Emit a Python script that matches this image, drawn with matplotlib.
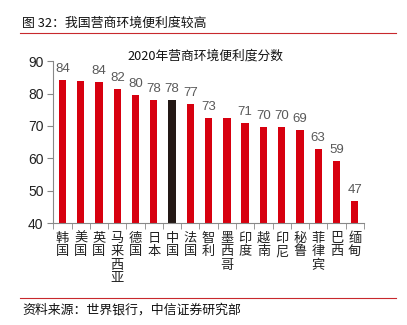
import matplotlib
matplotlib.use("Agg")
import matplotlib.pyplot as plt
from matplotlib.lines import Line2D

plt.rcParams['font.family'] = ['Noto Sans CJK SC', 'DejaVu Sans']

countries = ["韩国", "美国", "英国", "马来西亚", "德国", "日本", "中国", "法国", "智利",
             "墨西哥", "印度", "越南", "印尼", "秘鲁", "菲律宾", "巴西", "缅甸"]
scores = [84.1, 84.0, 83.6, 81.5, 79.7, 78.0, 77.9, 76.8, 72.6,
          72.4, 71.0, 69.8, 69.6, 68.7, 62.8, 59.1, 46.8]
value_labels = ["84", "", "84", "82", "80", "78", "78", "77", "73",
                "", "71", "70", "70", "69", "63", "59", "47"]
highlight = "中国"
yticks = [40, 50, 60, 70, 80, 90]

red = "#D7000F"
dark = "#231815"
num_font = ['Liberation Sans', 'DejaVu Sans']

fig = plt.figure(figsize=(4.07, 3.25), dpi=100)
ax = fig.add_axes([0.131, 0.313, 0.763, 0.499])

x = list(range(len(countries)))
colors = [dark if c == highlight else red for c in countries]
ax.bar(x, scores, width=0.4, color=colors, zorder=2)

for xi, s, lab in zip(x, scores, value_labels):
    if lab:
        ax.annotate(lab, (xi, s), xytext=(0, 3.5), textcoords='offset points',
                    ha='center', va='bottom', fontsize=9.5,
                    color='#595959', family=num_font)

ax.set_ylim(40, 90)
ax.set_xlim(-0.5, len(countries) - 0.5)
ax.set_yticks(yticks)
ax.set_yticklabels([str(t) for t in yticks], fontsize=10, color='#222222',
                   family=num_font)

ax.set_xticks(x)
ax.set_xticklabels(["\n".join(c) for c in countries], fontsize=9.5,
                   linespacing=1.05, va='top', color='#222222')
ax.tick_params(axis='x', length=0, pad=6)
ax.set_xticks([i - 0.5 for i in range(len(countries) + 1)], minor=True)
ax.tick_params(axis='x', which='minor', length=4, color='#888888', direction='out')
ax.tick_params(axis='y', length=4, color='#888888', direction='out', pad=3)

for s in ['top', 'right']:
    ax.spines[s].set_visible(False)
for s in ['left', 'bottom']:
    ax.spines[s].set_color('#888888')
    ax.spines[s].set_linewidth(0.8)

fig.text(0.504, 0.827, "2020年营商环境便利度分数", ha='center', va='center',
         fontsize=9.2, color='#111111')

fig.text(0.054, 0.928, "图 32：我国营商环境便利度较高", ha='left', va='center',
         fontsize=9.3, color='#111111')
fig.add_artist(Line2D([0.049, 0.973], [0.897, 0.897], transform=fig.transFigure,
                      color='#C8282D', linewidth=0.8))
fig.add_artist(Line2D([0.049, 0.973], [0.083, 0.083], transform=fig.transFigure,
                      color='#C8282D', linewidth=0.8))
fig.text(0.054, 0.045, "资料来源：世界银行，中信证券研究部", ha='left', va='center',
         fontsize=9.3, color='#111111')

fig.savefig("out.png", dpi=100)
